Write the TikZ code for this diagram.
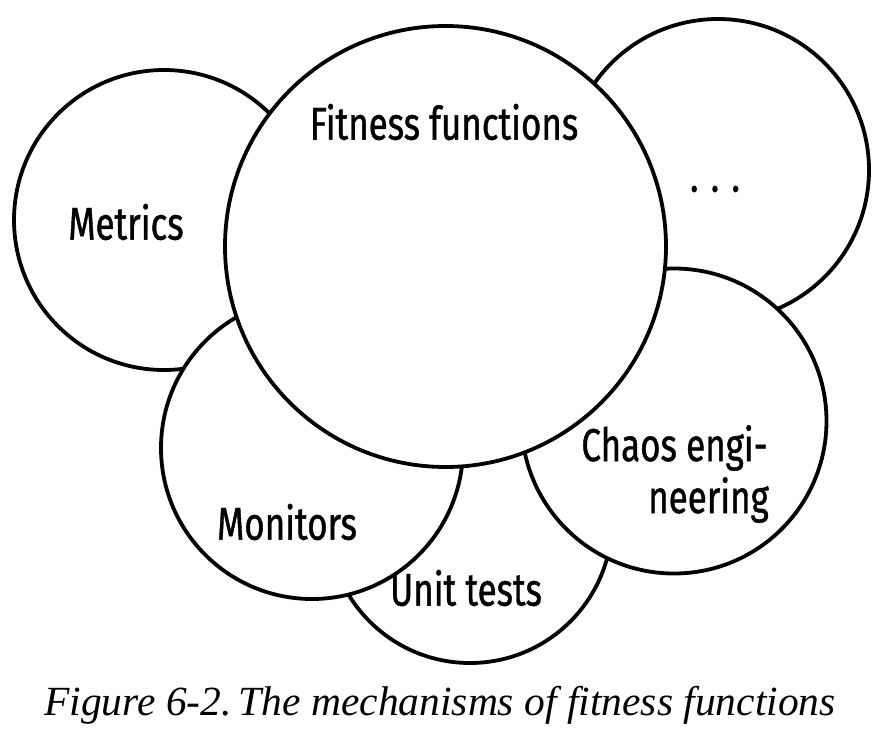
\documentclass[tikz,border=0pt]{standalone}
\usepackage{fontspec}
\setmainfont{Liberation Serif}
\newfontfamily\labelfont[FakeStretch=0.76,FakeBold=0.9]{Fira Sans}
\begin{document}
\begin{tikzpicture}[x=1pt,y=-1pt,
  bubble/.style={draw=black,fill=white,line width=3.8pt},
  lbl/.style={font=\labelfont\fontsize{46}{52}\selectfont,inner sep=0pt,text=black}]
\useasboundingbox[fill=white] (0,0) rectangle (881,742);
% circles, back to front
\path[bubble] (470,521) circle (142) coordinate (cu);
\path[bubble] (718,170) circle (151) coordinate (cd);
\path[bubble] (164,220) circle (150) coordinate (cm);
\path[bubble] (312,448) circle (151) coordinate (cmo);
\path[bubble] (674,421) circle (152.5) coordinate (cc);
\path[bubble] (445.5,246.5) circle (220.5) coordinate (cf);
% labels
\node[lbl] (fit) at (444,122) {Fitness functions};
\node[lbl] (met) at (126,222) {Metrics};
\node[lbl] (dots) at (715,189) {. . .};
\node[lbl,anchor=east] (ch1) at (768,448) {Chaos engi-};
\node[lbl,anchor=east] (ch2) at (769,500) {neering};
\node[lbl] (mon) at (287,522) {Monitors};
\node[lbl] (uni) at (466,588) {Unit tests};
\node[font=\itshape\fontsize{41.5}{48}\selectfont,inner sep=0pt] (cap) at (440,705) {Figure 6-2.\,The mechanisms of fitness functions};
\end{tikzpicture}
\end{document}
